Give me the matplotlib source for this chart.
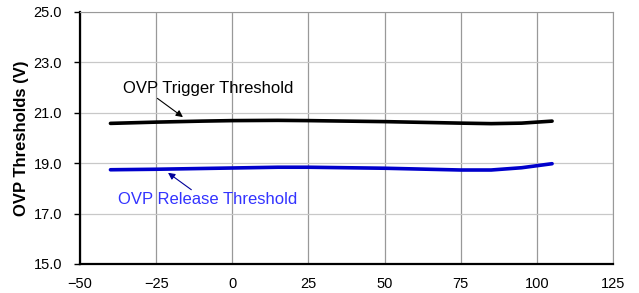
import numpy as np
import matplotlib.pyplot as plt

plt.rcParams['font.family'] = ['Liberation Sans', 'DejaVu Sans']

# temperature (C) and thresholds (V)
temp = [-40, -25, -10, 0, 15, 25, 50, 75, 85, 95, 105]
trigger = [20.58, 20.63, 20.67, 20.69, 20.70, 20.69, 20.65, 20.59, 20.57, 20.59, 20.67]
release = [18.74, 18.76, 18.79, 18.81, 18.84, 18.84, 18.80, 18.73, 18.73, 18.82, 18.98]

x_ticks = [-50, -25, 0, 25, 50, 75, 100, 125]
y_ticks = [15.0, 17.0, 19.0, 21.0, 23.0, 25.0]

fig = plt.figure(figsize=(6.39, 2.93), dpi=100)
ax = fig.add_axes([80/639, 1 - 264/293, (613-80)/639, (264-12)/293])

ax.plot(temp, trigger, color='black', lw=2.6, solid_capstyle='round', solid_joinstyle='round')
ax.plot(temp, release, color='#0000cc', lw=2.6, solid_capstyle='round', solid_joinstyle='round')

ax.set_xlim(-50, 125)
ax.set_ylim(15, 25)
ax.set_xticks(x_ticks)
ax.set_yticks(y_ticks)
ax.set_yticklabels(['%.1f' % v for v in y_ticks])
ax.xaxis.grid(True, color='#999999', lw=0.9)
ax.yaxis.grid(True, color='#c8c8c8', lw=0.9)
ax.set_axisbelow(True)
ax.tick_params(axis='y', labelsize=10.5, length=4, width=1, color='black', pad=9)
ax.tick_params(axis='x', labelsize=10.5, length=0, pad=9)
for s in ['top', 'right']:
    ax.spines[s].set_color('#999999')
for s in ['left', 'bottom']:
    ax.spines[s].set_linewidth(1.6)
ax.set_ylabel('OVP Thresholds (V)', fontsize=12, fontweight='bold', labelpad=3)

ax.annotate('OVP Trigger Threshold', xy=(-16.2, 20.83), xytext=(-35.9, 21.98),
            fontsize=12, color='black', va='center', ha='left',
            arrowprops=dict(arrowstyle='-|>', color='black', lw=0.8,
                            shrinkA=0, shrinkB=0, mutation_scale=10,
                            relpos=(0.18, 0)))
ax.annotate('OVP Release Threshold', xy=(-21.1, 18.62), xytext=(-37.5, 17.54),
            fontsize=12, color='#3333ff', va='center', ha='left',
            arrowprops=dict(arrowstyle='-|>', color='#000099', lw=0.8,
                            shrinkA=0, shrinkB=0, mutation_scale=10,
                            relpos=(0.43, 1)))

fig.savefig('out.png', dpi=100)
